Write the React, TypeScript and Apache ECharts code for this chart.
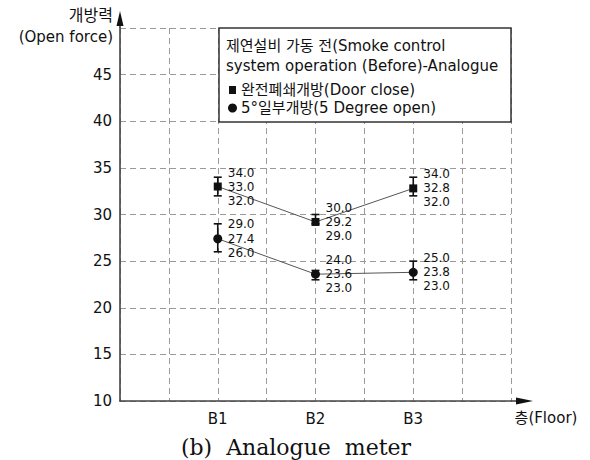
import React, { useEffect, useRef } from "react";
import * as echarts from "echarts";

const floors = ["B1", "B2", "B3"];
const floorPos = [1, 2, 3];
const closeMean = [33.0, 29.2, 32.8];
const closeMin = [32.0, 29.0, 32.0];
const closeMax = [34.0, 30.0, 34.0];
const openMean = [27.4, 23.6, 23.8];
const openMin = [26.0, 23.0, 23.0];
const openMax = [29.0, 24.0, 25.0];
const yTicks = [10, 15, 20, 25, 30, 35, 40, 45];

const SANS = "'DejaVu Sans', 'Noto Sans CJK KR', sans-serif";
const TXT = "#111";

export default function App() {
  const ref = useRef<HTMLDivElement>(null);
  useEffect(() => {
    document.body.style.margin = "0";
    const chart = echarts.init(ref.current!, null, { renderer: "svg" });

    const errData = (mean: number[], lo: number[], hi: number[]) =>
      floorPos.map((x, i) => [x, mean[i], lo[i], hi[i]]);

    const errRender = (params: any, api: any) => {
      const x = api.value(0);
      const lo = api.coord([x, api.value(2)]);
      const hi = api.coord([x, api.value(3)]);
      const w = 4;
      const style = { stroke: "#111", lineWidth: 1.6 };
      return {
        type: "group",
        children: [
          { type: "line", shape: { x1: lo[0], y1: lo[1], x2: hi[0], y2: hi[1] }, style },
          { type: "line", shape: { x1: lo[0] - w, y1: lo[1], x2: lo[0] + w, y2: lo[1] }, style },
          { type: "line", shape: { x1: hi[0] - w, y1: hi[1], x2: hi[0] + w, y2: hi[1] }, style },
        ],
      };
    };

    const labelRender = (params: any, api: any) => {
      const x = api.value(0);
      const m = api.coord([x, api.value(1)]);
      const lo = api.coord([x, api.value(2)]);
      const hi = api.coord([x, api.value(3)]);
      const gap = 14;
      const yHi = Math.min(hi[1], m[1] - gap);
      const yLo = Math.max(lo[1], m[1] + gap);
      const tx = m[0] + 10;
      const st = (t: string) => ({
        text: t,
        fill: TXT,
        font: `12px ${SANS}`,
        verticalAlign: "middle",
        align: "left",
      });
      return {
        type: "group",
        children: [
          { type: "text", x: tx, y: yHi, style: st(api.value(3).toFixed(1)) },
          { type: "text", x: tx, y: m[1], style: st(api.value(1).toFixed(1)) },
          { type: "text", x: tx, y: yLo, style: st(api.value(2).toFixed(1)) },
        ],
      };
    };

    const axisCol = "#444";
    const gridL = 120, gridR = 511, gridT = 28, gridB = 401;

    chart.setOption({
      animation: false,
      grid: { left: gridL, right: 590 - gridR, top: gridT, bottom: 460 - gridB, containLabel: false },
      xAxis: {
        type: "value",
        min: 0,
        max: 4,
        interval: 0.5,
        axisLine: { show: true, onZero: false, lineStyle: { color: axisCol, width: 1.6 } },
        axisTick: { show: false },
        splitLine: { show: true, lineStyle: { color: "#9a9a9a", type: [6, 4], width: 1 } },
        axisLabel: {
          margin: 10,
          fontSize: 15,
          color: TXT,
          fontFamily: SANS,
          formatter: (v: number) => {
            const i = floorPos.indexOf(v);
            return i >= 0 ? floors[i] : "";
          },
        },
      },
      yAxis: {
        type: "value",
        min: 10,
        max: 50,
        interval: 5,
        axisLine: { show: true, lineStyle: { color: axisCol, width: 1.6 } },
        axisTick: { show: false },
        splitLine: { show: true, lineStyle: { color: "#9a9a9a", type: [6, 4], width: 1 } },
        axisLabel: {
          margin: 8,
          fontSize: 15,
          color: TXT,
          fontFamily: SANS,
          formatter: (v: number) => (yTicks.indexOf(v) >= 0 ? String(v) : ""),
        },
      },
      series: [
        {
          type: "line",
          data: floorPos.map((x, i) => [x, closeMean[i]]),
          symbol: "rect",
          symbolSize: 8,
          itemStyle: { color: "#111" },
          lineStyle: { color: "#555", width: 1 },
          z: 3,
        },
        {
          type: "line",
          data: floorPos.map((x, i) => [x, openMean[i]]),
          symbol: "circle",
          symbolSize: 9,
          itemStyle: { color: "#111" },
          lineStyle: { color: "#555", width: 1 },
          z: 3,
        },
        { type: "custom", data: errData(closeMean, closeMin, closeMax), renderItem: errRender, z: 4 },
        { type: "custom", data: errData(openMean, openMin, openMax), renderItem: errRender, z: 4 },
        { type: "custom", data: errData(closeMean, closeMin, closeMax), renderItem: labelRender, z: 5 },
        { type: "custom", data: errData(openMean, openMin, openMax), renderItem: labelRender, z: 5 },
      ],
      graphic: [
        // axis extensions with arrows
        { type: "line", z: 50, shape: { x1: gridL, y1: gridT, x2: gridL, y2: 20 }, style: { stroke: axisCol, lineWidth: 1.6 } },
        { type: "polygon", z: 50, shape: { points: [[gridL, 11], [gridL - 3.5, 26], [gridL + 3.5, 26]] }, style: { fill: "#111" } },
        { type: "line", z: 50, shape: { x1: gridR, y1: gridB, x2: 524, y2: gridB }, style: { stroke: axisCol, lineWidth: 1.6 } },
        { type: "polygon", z: 50, shape: { points: [[533, gridB], [516, gridB - 3.5], [516, gridB + 3.5]] }, style: { fill: "#111" } },
        // axis names
        { type: "text", z: 50, x: 113, y: 15, style: { text: "개방력", font: `16px ${SANS}`, fill: TXT, align: "right", verticalAlign: "middle" } },
        { type: "text", z: 50, x: 113, y: 37, style: { text: "(Open force)", font: `15px ${SANS}`, fill: TXT, align: "right", verticalAlign: "middle" } },
        { type: "text", z: 50, x: 546, y: 418, style: { text: "층(Floor)", font: `15px ${SANS}`, fill: TXT, align: "center", verticalAlign: "middle" } },
        // legend box
        { type: "rect", z: 60, shape: { x: 219, y: gridT, width: gridR - 219, height: 94 }, style: { fill: "#fff", stroke: "#333", lineWidth: 1.5 } },
        { type: "text", z: 61, x: 226, y: 46, style: { text: "제연설비 가동 전(Smoke control", font: `15px ${SANS}`, fill: TXT, verticalAlign: "middle" } },
        { type: "text", z: 61, x: 226, y: 66, style: { text: "system operation (Before)-Analogue", font: `15px ${SANS}`, fill: TXT, verticalAlign: "middle" } },
        { type: "rect", z: 61, shape: { x: 229, y: 86, width: 7, height: 8 }, style: { fill: "#111" } },
        { type: "text", z: 61, x: 241, y: 90, style: { text: "완전폐쇄개방(Door close)", font: `15px ${SANS}`, fill: TXT, verticalAlign: "middle" } },
        { type: "circle", z: 61, shape: { cx: 232.5, cy: 108, r: 4.5 }, style: { fill: "#111" } },
        { type: "text", z: 61, x: 241, y: 108, style: { text: "5°일부개방(5 Degree open)", font: `15px ${SANS}`, fill: TXT, verticalAlign: "middle" } },
        // caption
        { type: "text", z: 61, x: 296, y: 447, style: { text: "(b)  Analogue  meter", font: `22px 'DejaVu Serif', serif`, fill: TXT, align: "center", verticalAlign: "middle" } },
      ],
    });
    return () => chart.dispose();
  }, []);
  return <div ref={ref} style={{ width: 590, height: 460 }} />;
}
